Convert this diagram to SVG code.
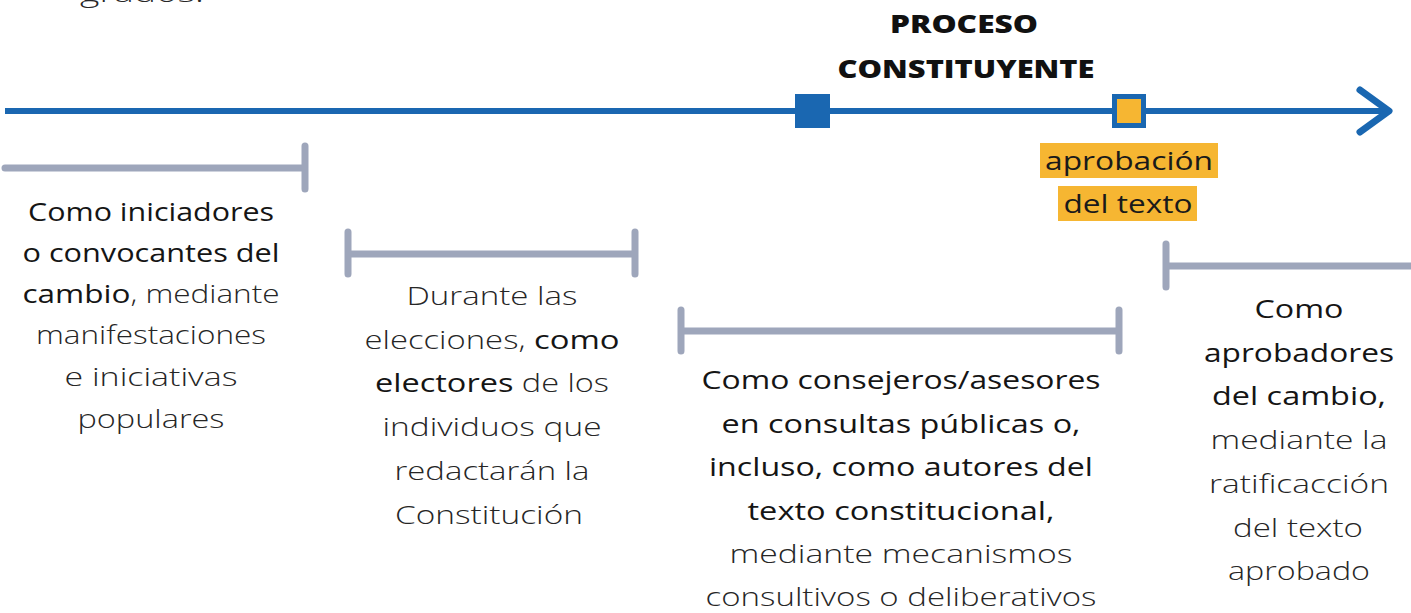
<svg xmlns="http://www.w3.org/2000/svg" width="1411" height="613" viewBox="0 0 1411 613">
<style>
text{font-family:"Open Sans","DejaVu Sans",sans-serif;font-size:25px;fill:#262626;font-weight:300;text-anchor:middle}
.b{font-weight:500;fill:#151515}
.h{font-weight:800;fill:#111;font-size:25px}
.m{font-weight:400;fill:#1a1a1a;font-size:26px}
.br{stroke:#9ea6bb;stroke-width:7;stroke-linecap:round;fill:none}
.tl{stroke:#1a67b1;stroke-width:6;fill:none}
</style>
<text x="80" y="2" style="text-anchor:start" font-size="28" textLength="124" lengthAdjust="spacingAndGlyphs">grados.</text>
<g id="timeline">
<line class="tl" x1="5" y1="111" x2="1388" y2="111"/>
<polyline points="1360,90 1389,111 1360,132" fill="none" stroke="#1a67b1" stroke-width="7" stroke-linecap="round" stroke-linejoin="round"/>
</g>
<g id="proceso">
<text class="h" x="964" y="33" textLength="148" lengthAdjust="spacingAndGlyphs">PROCESO</text>
<text class="h" x="966" y="78" textLength="257" lengthAdjust="spacingAndGlyphs">CONSTITUYENTE</text>
<rect x="795" y="94" width="35" height="34" fill="#1a67b1"/>
</g>
<g id="aprobacion">
<rect x="1114.5" y="96.5" width="29" height="29" fill="#f6b632" stroke="#1a67b1" stroke-width="5"/>
<rect x="1040" y="143" width="178" height="35" fill="#f6b632"/>
<rect x="1058" y="186" width="139" height="35" fill="#f6b632"/>
<text class="m" x="1129" y="170" textLength="168" lengthAdjust="spacingAndGlyphs">aprobación</text>
<text class="m" x="1128" y="213" textLength="129" lengthAdjust="spacingAndGlyphs">del texto</text>
</g>
<g id="connectors">
<path class="br" d="M5 168 H305 M305 146 V189"/>
<path class="br" d="M348 254 H635 M348 232 V274 M635 232 V274"/>
<path class="br" d="M681 331 H1119 M681 310 V351 M1119 310 V351"/>
<path class="br" d="M1166 266 H1415 M1166 244 V287"/>
</g>
<g id="iniciadores">
<text x="151" y="221" textLength="246" lengthAdjust="spacingAndGlyphs"><tspan class="b">Como iniciadores</tspan></text>
<text x="151" y="262" textLength="257" lengthAdjust="spacingAndGlyphs"><tspan class="b">o convocantes del</tspan></text>
<text x="151" y="303" textLength="257" lengthAdjust="spacingAndGlyphs"><tspan class="b">cambio</tspan>, mediante</text>
<text x="151" y="344" textLength="230" lengthAdjust="spacingAndGlyphs">manifestaciones</text>
<text x="151" y="386" textLength="173" lengthAdjust="spacingAndGlyphs">e iniciativas</text>
<text x="151" y="428" textLength="147" lengthAdjust="spacingAndGlyphs">populares</text>
</g>
<g id="electores">
<text x="492" y="305" textLength="171" lengthAdjust="spacingAndGlyphs">Durante las</text>
<text x="492" y="349" textLength="255" lengthAdjust="spacingAndGlyphs">elecciones, <tspan class="b">como</tspan></text>
<text x="492" y="392" textLength="234" lengthAdjust="spacingAndGlyphs"><tspan class="b">electores</tspan> de los</text>
<text x="492" y="436" textLength="219" lengthAdjust="spacingAndGlyphs">individuos que</text>
<text x="492" y="480" textLength="195" lengthAdjust="spacingAndGlyphs">redactarán la</text>
<text x="489" y="524" textLength="188" lengthAdjust="spacingAndGlyphs">Constitución</text>
</g>
<g id="consejeros">
<text x="901" y="389" textLength="399" lengthAdjust="spacingAndGlyphs"><tspan class="b">Como consejeros/asesores</tspan></text>
<text x="901" y="433" textLength="359" lengthAdjust="spacingAndGlyphs"><tspan class="b">en consultas públicas o,</tspan></text>
<text x="901" y="476" textLength="384" lengthAdjust="spacingAndGlyphs"><tspan class="b">incluso, como autores del</tspan></text>
<text x="901" y="520" textLength="307" lengthAdjust="spacingAndGlyphs"><tspan class="b">texto constitucional,</tspan></text>
<text x="901" y="563" textLength="343" lengthAdjust="spacingAndGlyphs">mediante mecanismos</text>
<text x="901" y="606" textLength="391" lengthAdjust="spacingAndGlyphs">consultivos o deliberativos</text>
</g>
<g id="aprobadores">
<text x="1299" y="318" textLength="89" lengthAdjust="spacingAndGlyphs"><tspan class="b">Como</tspan></text>
<text x="1299" y="362" textLength="190" lengthAdjust="spacingAndGlyphs"><tspan class="b">aprobadores</tspan></text>
<text x="1299" y="405" textLength="174" lengthAdjust="spacingAndGlyphs"><tspan class="b">del cambio,</tspan></text>
<text x="1299" y="449" textLength="177" lengthAdjust="spacingAndGlyphs">mediante la</text>
<text x="1299" y="493" textLength="180" lengthAdjust="spacingAndGlyphs">ratificacción</text>
<text x="1298" y="537" textLength="130" lengthAdjust="spacingAndGlyphs">del texto</text>
<text x="1299" y="580" textLength="142" lengthAdjust="spacingAndGlyphs">aprobado</text>
</g>
</svg>
